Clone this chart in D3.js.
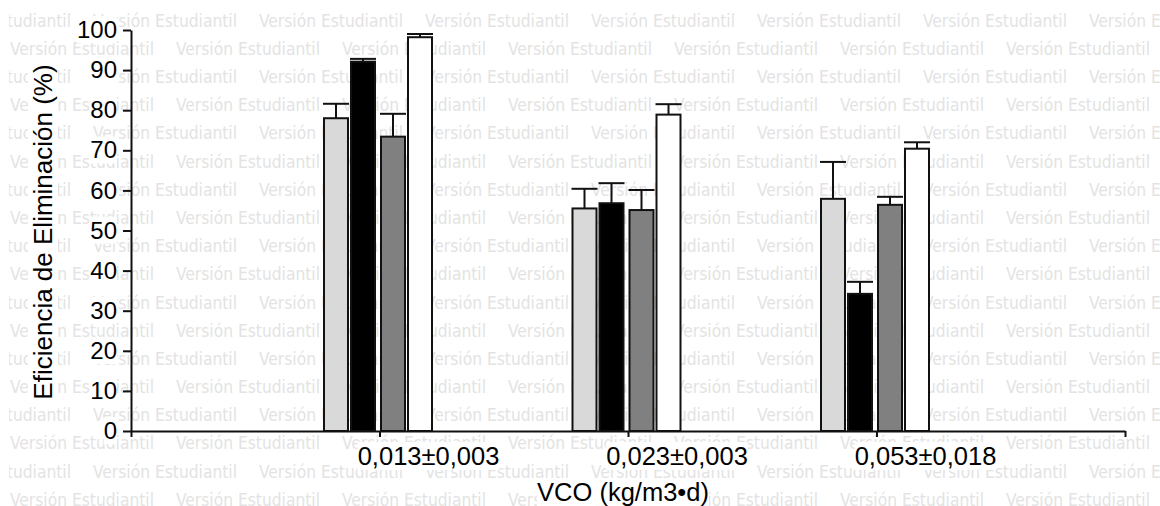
<!DOCTYPE html>
<html>
<head>
<meta charset="utf-8">
<script src="https://cdn.jsdelivr.net/npm/d3@7"></script>
<style>
body { margin: 0; background: #fff; }
svg { display: block; }
</style>
</head>
<body>
<div id="viz"></div>
<script>
(function() {

// categories on the x axis
var categories = ["0,013±0,003", "0,023±0,003", "0,053±0,018"];
var seriesNames = ["s1", "s2", "s3", "s4"];
var seriesColors = ["#d9d9d9", "#000000", "#808080", "#ffffff"];

// bar heights (%) per series, one value per category
var values1 = [78.0, 55.5, 57.9];
var values2 = [92.1, 56.8, 34.2];
var values3 = [73.4, 55.1, 56.4];
var values4 = [98.2, 78.9, 70.4];

// upper error bars
var errors1 = [3.6, 4.9, 9.2];
var errors2 = [0.7, 5.0, 3.0];
var errors3 = [5.7, 5.0, 2.0];
var errors4 = [0.8, 2.6, 1.6];

var yTicks = [0, 10, 20, 30, 40, 50, 60, 70, 80, 90, 100];
var xTickValues = [0, 1, 2, 3, 4];

var yTitle = "Eficiencia de Eliminación (%)";
var xTitle = "VCO (kg/m3•d)";
var watermark = "Versión Estudiantil";

var allValues = [values1, values2, values3, values4];
var allErrors = [errors1, errors2, errors3, errors4];

var W = 1160, H = 506;
var font = "'Liberation Sans', Arial, sans-serif";

var svg = d3.select("#viz")
    .append("svg")
    .attr("width", W)
    .attr("height", H);

// --- watermark rows (behind everything) ---
svg.append("clipPath").attr("id", "wmclip")
    .append("rect").attr("x", 9).attr("y", 0).attr("width", W).attr("height", H);

var wm = svg.append("g").attr("clip-path", "url(#wmclip)");
var rowGap = 28.18, period = 166;
for (var r = 0; r < 18; r++) {
    var start = (r % 2 === 0) ? -73 : 10;
    for (var x0 = start; x0 < W; x0 += period) {
        wm.append("text")
            .attr("x", x0)
            .attr("y", 26.7 + r * rowGap)
            .attr("textLength", 144)
            .attr("lengthAdjust", "spacingAndGlyphs")
            .style("font-family", "'DejaVu Sans Condensed', 'DejaVu Sans', sans-serif")
            .style("font-stretch", "condensed")
            .style("font-size", "17.5px")
            .style("fill", "#e3e3e3")
            .text(watermark);
    }
}

// --- scales ---
var x = d3.scaleLinear().domain([0, 4]).range([131, 1125]);
var y = d3.scaleLinear().domain([0, 100]).range([431, 30]);
var x1 = d3.scaleBand().domain(seriesNames).range([-55, 53]);
var midGap = 1.5;

function barLeft(si, ci) {
    return x(ci + 1) + x1(seriesNames[si]) + (si < 2 ? -midGap : midGap);
}

var data = [];
allValues.forEach(function(vals, si) {
    vals.forEach(function(v, ci) {
        data.push({s: si, c: ci, v: v, e: allErrors[si][ci]});
    });
});

var plot = svg.append("g");
var bw = x1.bandwidth() - 1;

// error bars (drawn first so the bar outline sits over the stem foot)
var eb = plot.selectAll("g.err")
    .data(data)
    .enter().append("g").attr("class", "err");
eb.append("line")
    .attr("x1", function(d) { return barLeft(d.s, d.c) + bw / 2; })
    .attr("x2", function(d) { return barLeft(d.s, d.c) + bw / 2; })
    .attr("y1", function(d) { return y(d.v); })
    .attr("y2", function(d) { return y(d.v + d.e); })
    .style("stroke", "#111")
    .style("stroke-width", 2);
eb.append("line")
    .attr("x1", function(d) { return barLeft(d.s, d.c); })
    .attr("x2", function(d) { return barLeft(d.s, d.c) + bw; })
    .attr("y1", function(d) { return y(d.v + d.e); })
    .attr("y2", function(d) { return y(d.v + d.e); })
    .style("stroke", "#111")
    .style("stroke-width", 2);

plot.selectAll("rect.bar")
    .data(data)
    .enter().append("rect")
    .attr("class", "bar")
    .attr("x", function(d) { return barLeft(d.s, d.c) + 1; })
    .attr("width", bw - 2)
    .attr("y", function(d) { return y(d.v); })
    .attr("height", function(d) { return y(0) - y(d.v); })
    .style("fill", function(d) { return seriesColors[d.s]; })
    .style("stroke", "#111")
    .style("stroke-width", 2);

// --- axes ---
var yAxis = svg.append("g")
    .attr("transform", "translate(" + x(0) + ",0)")
    .call(d3.axisLeft(y).tickValues(yTicks).tickSize(8).tickSizeOuter(0).tickPadding(6));
var xAxis = svg.append("g")
    .attr("transform", "translate(0," + y(0) + ")")
    .call(d3.axisBottom(x).tickValues(xTickValues).tickSize(6).tickSizeOuter(0).tickFormat(""));

[yAxis, xAxis].forEach(function(a) {
    a.selectAll("path, line").style("stroke", "#111").style("stroke-width", 2);
});
yAxis.selectAll("text")
    .style("font-family", font)
    .style("font-size", "24px")
    .style("fill", "#000");

// category labels
var cl = svg.append("g");
cl.selectAll("text")
    .data(categories)
    .enter().append("text")
    .attr("x", function(d, i) { return x(i + 1) + 49; })
    .attr("y", 465)
    .attr("text-anchor", "middle")
    .style("font-family", font)
    .style("font-size", "25.5px")
    .text(function(d) { return d; });

svg.append("text")
    .attr("class", "xtitle")
    .attr("x", 623)
    .attr("y", 501)
    .attr("text-anchor", "middle")
    .style("font-family", font)
    .style("font-size", "25.5px")
    .text(xTitle);

svg.append("text")
    .attr("class", "ytitle")
    .attr("transform", "translate(52,232) rotate(-90)")
    .attr("text-anchor", "middle")
    .style("font-family", font)
    .style("font-size", "26px")
    .text(yTitle);

// white boxes behind the labels, like the original export
svg.selectAll("text").each(function() {
    if (this.parentNode === wm.node()) return;
    var b = this.getBBox();
    var t = this.getAttribute("transform");
    var p = this.parentNode;
    var rect = document.createElementNS("http://www.w3.org/2000/svg", "rect");
    rect.setAttribute("x", b.x);
    rect.setAttribute("y", b.y);
    rect.setAttribute("width", b.width);
    rect.setAttribute("height", b.height);
    rect.setAttribute("fill", "#fff");
    if (t) rect.setAttribute("transform", t);
    p.insertBefore(rect, this);
});

})();
</script>
</body>
</html>
